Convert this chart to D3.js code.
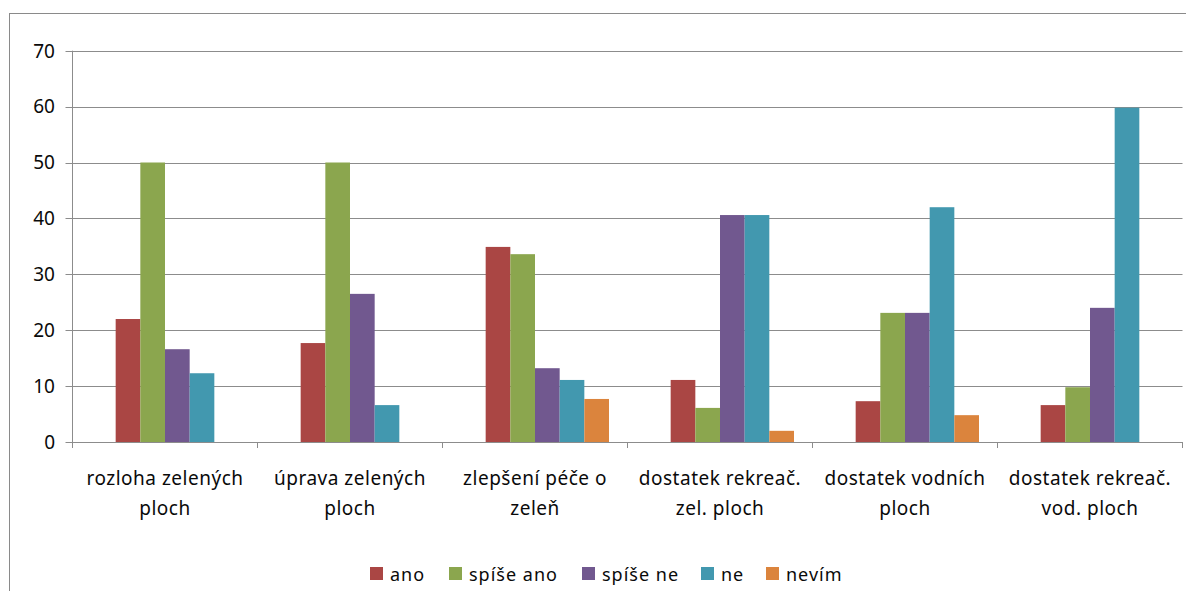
<!DOCTYPE html>
<meta charset="utf-8">
<style>
body { margin: 0; background: #fff; }
text { font-family: "Noto Sans", sans-serif; fill: #0a0a0a; }
</style>
<body>
<svg id="chart" width="1186" height="591"></svg>
<script src="https://d3js.org/d3.v7.min.js"></script>
<script>
// categories (two-line labels)
var categories = [
  ["rozloha zelených", "ploch"],
  ["úprava zelených", "ploch"],
  ["zlepšení péče o", "zeleň"],
  ["dostatek rekreač.", "zel. ploch"],
  ["dostatek vodních", "ploch"],
  ["dostatek rekreač.", "vod. ploch"]
];
var seriesNames = ["ano", "spíše ano", "spíše ne", "ne", "nevím"];
var ano      = [22.0, 17.7, 34.9, 11.1, 7.3, 6.6];
var spiseAno = [50.0, 50.0, 33.6, 6.1, 23.1, 9.8];
var spiseNe  = [16.6, 26.5, 13.2, 40.6, 23.1, 24.0];
var ne       = [12.3, 6.6, 11.1, 40.6, 42.0, 59.8];
var nevim    = [0, 0, 7.7, 2.0, 4.8, 0];
var yTicks = [0, 10, 20, 30, 40, 50, 60, 70];
var colors = ["#AA4644", "#8BA64E", "#71588F", "#4298AF", "#DB843D"];

var seriesValues = [ano, spiseAno, spiseNe, ne, nevim];

var svg = d3.select("#chart");
var plotLeft = 72.5, plotRight = 1182.5, plotTop = 50.7, plotBottom = 442;

// outer frame
svg.append("rect")
  .attr("x", 9.5).attr("y", 13.5)
  .attr("width", 1200).attr("height", 600)
  .attr("fill", "none").attr("stroke", "#8a8a8a");

var y = d3.scaleLinear().domain([0, 70]).range([plotBottom, plotTop]);
var x0 = d3.scaleBand().domain(d3.range(categories.length)).range([plotLeft, plotRight]);
// the source chart reserves an empty first slot in every group
var slots = ["_"].concat(seriesNames);
var x1 = d3.scaleBand().domain(slots).range([0, x0.bandwidth()])
  .paddingInner(0).paddingOuter(0.75);

// gridlines
svg.append("g").selectAll("line")
  .data(yTicks.filter(function(d) { return d > 0; }))
  .enter().append("line")
    .attr("x1", plotLeft - 7).attr("x2", plotRight)
    .attr("y1", function(d) { return Math.round(y(d)) + 0.5; })
    .attr("y2", function(d) { return Math.round(y(d)) + 0.5; })
    .attr("stroke", "#8c8c8c");

// bars
var groups = svg.append("g").selectAll("g")
  .data(categories)
  .enter().append("g")
    .attr("transform", function(d, i) { return "translate(" + x0(i) + ",0)"; });

groups.selectAll("rect")
  .data(function(d, i) {
    return seriesNames.map(function(s, j) { return {key: s, value: seriesValues[j][i], j: j}; });
  })
  .enter().append("rect")
    .filter(function(d) { return d.value > 0; })
    .attr("x", function(d) { return x1(d.key); })
    .attr("width", x1.bandwidth())
    .attr("y", function(d) { return y(d.value); })
    .attr("height", function(d) { return plotBottom - y(d.value); })
    .attr("fill", function(d) { return colors[d.j]; });

// axes lines
svg.append("line")
  .attr("x1", plotLeft).attr("x2", plotLeft).attr("y1", plotTop).attr("y2", plotBottom + 6)
  .attr("stroke", "#8c8c8c");
svg.append("line")
  .attr("x1", plotLeft - 7).attr("x2", plotRight).attr("y1", plotBottom + 0.5).attr("y2", plotBottom + 0.5)
  .attr("stroke", "#8c8c8c");

svg.append("g").selectAll("text")
  .data(yTicks)
  .enter().append("text")
    .attr("x", 55).attr("y", function(d) { return y(d); })
    .attr("dy", "0.36em")
    .attr("text-anchor", "end")
    .style("font-size", "19px")
    .text(function(d) { return d; });

// category ticks
svg.append("g").selectAll("line")
  .data(d3.range(categories.length + 1))
  .enter().append("line")
    .attr("x1", function(i) { return plotLeft + i * x0.step(); })
    .attr("x2", function(i) { return plotLeft + i * x0.step(); })
    .attr("y1", plotBottom).attr("y2", plotBottom + 6)
    .attr("stroke", "#8c8c8c");

// category labels
var lab = svg.append("g").selectAll("text")
  .data(categories)
  .enter().append("text")
    .attr("text-anchor", "middle")
    .style("font-size", "19px")
    .style("letter-spacing", "0.5px");
lab.append("tspan")
  .attr("x", function(d, i) { return x0(i) + x0.bandwidth() / 2; })
  .attr("y", 485)
  .text(function(d) { return d[0]; });
lab.append("tspan")
  .attr("x", function(d, i) { return x0(i) + x0.bandwidth() / 2; })
  .attr("y", 515)
  .text(function(d) { return d[1]; });

// legend
var legendX = [370, 449, 582, 701, 766];
var leg = svg.append("g").selectAll("g")
  .data(seriesNames)
  .enter().append("g")
    .attr("transform", function(d, i) { return "translate(" + legendX[i] + ",567)"; });
leg.append("rect")
  .attr("width", 13).attr("height", 13)
  .attr("fill", function(d, i) { return colors[i]; });
leg.append("text")
  .attr("x", 20).attr("y", 14)
  .style("font-size", "18px")
  .style("letter-spacing", "1px")
  .text(function(d) { return d; });
</script>
</body>
